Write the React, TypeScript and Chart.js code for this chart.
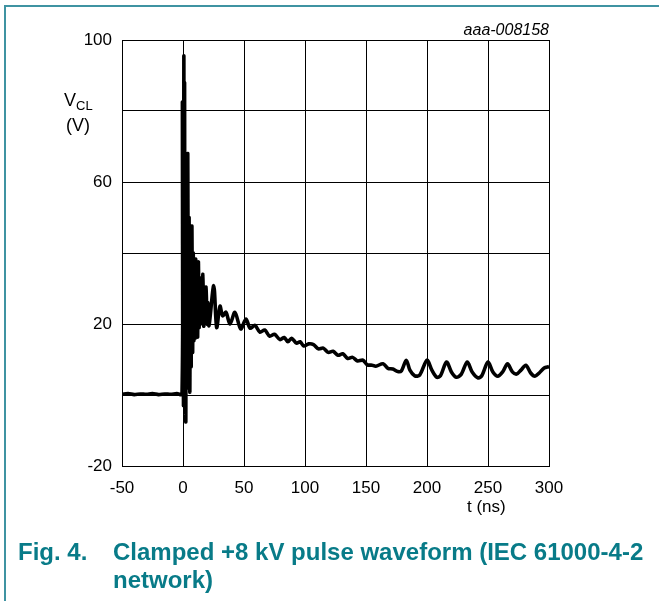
import { useEffect, useRef } from "react";
import { Chart, registerables } from "chart.js";

Chart.register(...registerables);

const timeNs = [
  -50, -45, -40, -35, -30, -25, -20, -15, -10, -5, -0.8,
  -0.5, -0.2, 0.1, 0.4, 0.7, 1.0, 1.3, 1.6, 1.9, 2.3, 2.8, 3.3, 3.9, 4.5, 5.0, 5.6,
  6.2, 6.7, 7.3, 7.9, 8.4, 8.9, 9.5, 10.0, 10.4, 11.0, 11.5, 12.0, 12.6, 13.2, 13.8,
  14.5, 15.2, 15.8, 16.3, 17.0, 17.6, 18.2, 18.9, 19.8, 20.5,
  21.3, 25.2, 27.6, 30.3, 32.5, 35.2, 38.5, 42.6, 47.3, 51.6, 55, 59, 63, 67, 71, 75,
  79.5, 83, 86, 89, 93, 96, 99, 103, 107, 111, 115, 119, 123, 127, 131, 135, 139, 143,
  147.5, 151, 155, 158, 164, 168, 172, 176, 179, 183, 186, 190, 194, 200, 204, 208, 211,
  216, 220, 224, 228, 233, 237, 242, 245, 250, 254, 258, 262, 266, 270, 273.5, 277, 281,
  285, 288.5, 292, 296, 300,
];

const voltageV = [
  0.2, 0.4, 0.1, 0.3, 0.2, 0.4, 0.1, 0.3, 0.2, 0.4, 0.2,
  82.5, 2, 80, -3, 95.5, 10, 88, -5, 60, -7.6, 55, 2, 68, 5, 50, 0.8,
  42, 8, 47.6, 12, 40, 15.3, 36, 16, 38.3, 17, 34, 16.3, 37.5, 19, 33,
  21.4, 32, 20, 34, 19.4, 28, 21, 30.4, 20, 26,
  19.5, 30.8, 19, 25, 22.3, 23.3, 20, 23.3, 18.6, 21.4, 18.8, 19.6, 17.7, 18.3, 16.6, 17.1,
  15.6, 16.2, 15, 16, 14.6, 15, 13.8, 14.4, 14.2, 13, 13.2, 12, 12.3, 11.2, 11.6, 10.3, 10.6, 9.6,
  9.8, 8.5, 8.4, 8.1, 8.8, 7.5, 7.3, 6.6, 6.8, 9.8, 7.0, 5.4, 5.6, 9.8, 7.0, 5.0, 5.4,
  9.3, 6.5, 5.0, 5.8, 9.3, 6.5, 4.8, 5.5, 9.3, 6.5, 5.3, 6.5, 8.8, 6.5, 5.9, 7.0, 8.4,
  6.2, 5.3, 6.2, 7.6, 8.0,
];

const xTickValues = [-50, 0, 50, 100, 150, 200, 250, 300];
const yGridValues = [-20, 0, 20, 40, 60, 80, 100];
const yTickLabels = [-20, 20, 60, 100];

const FONT = "'Liberation Sans', Arial, sans-serif";
const TEAL = "#087b88";

export default function App() {
  const ref = useRef<HTMLCanvasElement>(null);

  useEffect(() => {
    const chart = new Chart(ref.current!, {
      type: "line",
      data: {
        datasets: [
          {
            data: timeNs.map((t, i) => ({ x: t, y: voltageV[i] })),
            borderColor: "#000",
            borderWidth: 3.6,
            pointRadius: 0,
            tension: 0.3,
            fill: false,
          },
        ],
      },
      options: {
        animation: false,
        responsive: false,
        plugins: { legend: { display: false }, tooltip: { enabled: false } },
        layout: { padding: { left: 0, top: 40, right: 110, bottom: 0 } },
        scales: {
          x: {
            type: "linear",
            min: -50,
            max: 300,
            afterFit: (s: any) => {
              s.height = 135;
            },
            afterBuildTicks: (s: any) => {
              s.ticks = xTickValues.map((v) => ({ value: v }));
            },
            grid: { color: "#000", lineWidth: 1, drawTicks: false },
            border: { color: "#000", width: 1 },
            ticks: {
              color: "#000",
              font: { family: FONT, size: 17 },
              padding: 12,
              maxRotation: 0,
              autoSkip: false,
            },
          },
          y: {
            type: "linear",
            min: -20,
            max: 100,
            afterFit: (s: any) => {
              s.width = 122;
            },
            afterBuildTicks: (s: any) => {
              s.ticks = yGridValues.map((v) => ({ value: v }));
            },
            grid: { color: "#000", lineWidth: 1, drawTicks: false },
            border: { color: "#000", width: 1 },
            ticks: {
              color: "#000",
              font: { family: FONT, size: 17 },
              padding: 10,
              autoSkip: false,
              callback: (v: any) => (yTickLabels.includes(Number(v)) ? String(v) : ""),
            },
          },
        },
      },
    });
    return () => chart.destroy();
  }, []);

  return (
    <div
      style={{
        position: "fixed",
        left: 0,
        top: 0,
        width: 659,
        height: 601,
        background: "#fff",
        overflow: "hidden",
        fontFamily: FONT,
      }}
    >
      <div
        style={{
          position: "absolute",
          left: 4,
          top: 5,
          width: 700,
          height: 700,
          borderTop: "2px solid #3f93a2",
          borderLeft: "2px solid #3f93a2",
        }}
      />
      <canvas
        ref={ref}
        width={659}
        height={601}
        style={{ position: "absolute", left: 0, top: 0 }}
      />
      <div
        style={{
          position: "absolute",
          right: 659 - 549,
          top: 21,
          fontSize: 16,
          fontStyle: "italic",
          lineHeight: "18px",
          color: "#000",
        }}
      >
        aaa-008158
      </div>
      <div style={{ position: "absolute", left: 64, top: 90, fontSize: 18, lineHeight: "20px", color: "#000" }}>
        V<span style={{ fontSize: 13, position: "relative", top: 4 }}>CL</span>
      </div>
      <div style={{ position: "absolute", left: 66, top: 115, fontSize: 18, lineHeight: "20px", color: "#000" }}>
        (V)
      </div>
      <div style={{ position: "absolute", left: 467, top: 497, fontSize: 17, lineHeight: "20px", color: "#000" }}>
        t (ns)
      </div>
      <div
        style={{
          position: "absolute",
          left: 18,
          top: 538,
          fontSize: 24,
          fontWeight: "bold",
          lineHeight: "28px",
          color: TEAL,
        }}
      >
        Fig. 4.
      </div>
      <div
        style={{
          position: "absolute",
          left: 113,
          top: 538,
          width: 545,
          fontSize: 24,
          fontWeight: "bold",
          lineHeight: "28px",
          color: TEAL,
          whiteSpace: "nowrap",
        }}
      >
        Clamped +8 kV pulse waveform (IEC 61000-4-2
        <br />
        network)
      </div>
    </div>
  );
}
